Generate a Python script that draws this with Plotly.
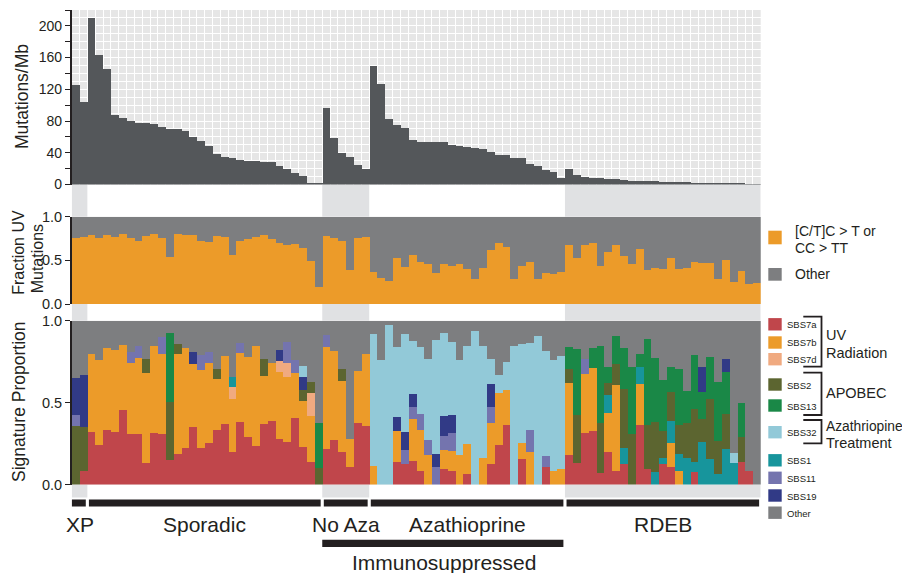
import plotly.graph_objects as go

W, H = 902, 573

# ---------------- data ----------------
groups = ["XP", "Sporadic", "No Aza", "Azathioprine", "RDEB"]
group_sizes = [2, 30, 6, 25, 25]

mutations_per_mb = [
    125, 104,
    210, 163, 145, 88, 84, 80, 78, 78, 76.5, 72.7, 70, 70, 67.6, 60, 55, 48.6, 38.5, 34.7, 33.4, 30.9,
    29.6, 29.6, 28.3, 28.3, 23.2, 19.4, 14.4, 10.6, 1.7, 1.7,
    96.8, 58.7, 39.7, 34.7, 24.5, 19.4,
    148.8, 127.2, 82.8, 75.2, 71.4, 56.2, 53.7, 53.7, 53.7, 53.7, 49.9, 48.6, 47.3, 46, 44.8, 41, 37.2, 37.2,
    33.4, 33.4, 25.8, 23.2, 18.2, 15.6, 8,
    19.4, 11.8, 9.3, 8, 8, 6.8, 6.8, 5.5, 4.2, 4.2, 4.2, 4, 3, 3, 3, 2.8, 2, 1.8, 1, 1, 1, 0.8, 0.8, 0.5, 0.3,
]

uv_fraction = [
    0.756, 0.767,
    0.79, 0.756, 0.79, 0.767, 0.80, 0.756, 0.72, 0.78, 0.81, 0.756, 0.54, 0.81, 0.79, 0.79, 0.73, 0.71, 0.78, 0.767,
    0.57, 0.73, 0.745, 0.767, 0.79, 0.745, 0.70, 0.675, 0.687, 0.64, 0.50, 0.195,
    0.78, 0.756, 0.73, 0.39, 0.756, 0.767,
    0.366, 0.30, 0.263, 0.527, 0.424, 0.56, 0.49, 0.458, 0.355, 0.458, 0.435, 0.458, 0.40, 0.286, 0.412, 0.618,
    0.70, 0.653, 0.286, 0.435, 0.48, 0.286, 0.355, 0.344, 0.366,
    0.675, 0.527, 0.675, 0.70, 0.435, 0.595, 0.675, 0.55, 0.458, 0.63, 0.39, 0.412, 0.40, 0.527, 0.40, 0.412,
    0.48, 0.47, 0.47, 0.286, 0.504, 0.252, 0.378, 0.229, 0.24,
]
uv_other = [
    0.244, 0.233,
    0.21, 0.244, 0.21, 0.233, 0.20, 0.244, 0.28, 0.22, 0.19, 0.244, 0.46, 0.19, 0.21, 0.21, 0.27, 0.29, 0.22, 0.233,
    0.43, 0.27, 0.255, 0.233, 0.21, 0.255, 0.30, 0.325, 0.313, 0.36, 0.50, 0.805,
    0.22, 0.244, 0.27, 0.61, 0.244, 0.233,
    0.634, 0.70, 0.737, 0.473, 0.576, 0.44, 0.51, 0.542, 0.645, 0.542, 0.565, 0.542, 0.60, 0.714, 0.588, 0.382,
    0.30, 0.347, 0.714, 0.565, 0.52, 0.714, 0.645, 0.656, 0.634,
    0.325, 0.473, 0.325, 0.30, 0.565, 0.405, 0.325, 0.45, 0.542, 0.37, 0.61, 0.588, 0.60, 0.473, 0.60, 0.588,
    0.52, 0.53, 0.53, 0.714, 0.496, 0.748, 0.622, 0.771, 0.76,
]

sbs7a = [
    0, 0.085,
    0.32, 0.242, 0.333, 0.32, 0.455, 0.309, 0.309, 0.132, 0.315, 0.309, 0.15, 0.187, 0.224, 0.352, 0.224,
    0.254, 0.333, 0.37, 0.2, 0.382, 0.29, 0.236, 0.37, 0.388, 0.278, 0.26, 0.407, 0.23, 0.138, 0,
    0.217, 0.272, 0.2, 0.108, 0.376, 0.358,
    0, 0, 0, 0.138, 0.126, 0.144, 0.083, 0, 0, 0.096, 0.083, 0, 0.065, 0, 0, 0.126, 0.242, 0.364, 0, 0.157,
    0, 0, 0.108, 0, 0,
    0.181, 0.132, 0.315, 0.327, 0.071, 0.2, 0.083, 0.126, 0, 0.364, 0.096, 0, 0.126, 0.108, 0, 0, 0.077,
    0, 0, 0, 0, 0, 0.138, 0.083, 0,
]
sbs7b = [
    0, 0,
    0.476, 0.518, 0.5, 0.506, 0.396, 0.433, 0.463, 0.549, 0.53, 0.488, 0, 0.61, 0.61, 0.384, 0.475, 0.488,
    0.311, 0.415, 0.323, 0.42, 0.488, 0.61, 0.293, 0.354, 0.408, 0.396, 0.274, 0.28, 0.28, 0,
    0.622, 0.543, 0.433, 0.171, 0.317, 0.439,
    0.114, 0, 0, 0.189, 0, 0.256, 0.25, 0.181, 0, 0.116, 0.122, 0.181, 0.183, 0, 0.163, 0.25, 0.317, 0.213,
    0, 0.098, 0.2, 0, 0, 0.083, 0.096,
    0.439, 0, 0.36, 0.384, 0, 0.238, 0.524, 0, 0, 0.25, 0, 0, 0, 0.146, 0.083, 0, 0, 0, 0, 0, 0, 0, 0, 0, 0,
]
sbs7d = [
    0, 0,
    0, 0, 0, 0, 0, 0, 0, 0, 0, 0, 0, 0, 0, 0, 0, 0, 0, 0, 0.073, 0, 0, 0, 0, 0, 0.067, 0.085, 0, 0, 0.14, 0,
    0, 0, 0, 0, 0, 0,
    0, 0, 0, 0, 0, 0, 0, 0, 0, 0, 0, 0, 0, 0, 0, 0, 0, 0, 0, 0, 0, 0, 0, 0, 0,
    0, 0, 0, 0, 0, 0, 0, 0, 0, 0, 0, 0, 0, 0, 0, 0, 0, 0, 0, 0, 0, 0, 0, 0, 0,
]
sbs1 = [
    0, 0,
    0, 0, 0, 0, 0, 0, 0, 0, 0, 0, 0, 0, 0, 0, 0, 0, 0, 0, 0.061, 0, 0, 0, 0, 0, 0, 0, 0, 0, 0, 0,
    0, 0, 0, 0, 0, 0,
    0, 0, 0, 0, 0, 0, 0, 0, 0, 0, 0, 0, 0, 0, 0, 0, 0, 0, 0, 0, 0, 0, 0, 0, 0,
    0, 0, 0, 0, 0, 0.11, 0, 0.098, 0, 0.104, 0, 0.077, 0.037, 0.134, 0.104, 0.163, 0.061, 0.26, 0.157,
    0.065, 0.217, 0.132, 0, 0, 0,
]
sbs2 = [
    0.358, 0.266,
    0, 0, 0, 0, 0, 0, 0, 0.085, 0, 0, 0.354, 0.061, 0, 0, 0, 0, 0.061, 0, 0, 0, 0, 0, 0.104, 0, 0, 0, 0,
    0.067, 0.067, 0.1,
    0, 0, 0.073, 0, 0, 0,
    0, 0, 0, 0, 0, 0, 0, 0, 0, 0, 0, 0, 0, 0, 0, 0, 0, 0, 0, 0, 0, 0, 0, 0, 0,
    0.085, 0.293, 0, 0, 0.305, 0.073, 0.128, 0.36, 0.309, 0, 0.268, 0.305, 0.165, 0.177, 0.177, 0.213,
    0.323, 0.14, 0.366, 0.2, 0.213, 0, 0.152, 0, 0,
]
sbs13 = [
    0, 0,
    0, 0, 0, 0, 0, 0, 0, 0, 0, 0, 0.42, 0, 0, 0, 0, 0, 0, 0, 0, 0, 0, 0, 0, 0, 0, 0, 0, 0, 0, 0.28,
    0, 0, 0, 0, 0, 0,
    0, 0, 0, 0, 0, 0, 0, 0, 0, 0, 0, 0, 0, 0, 0, 0, 0, 0, 0, 0, 0, 0, 0, 0, 0,
    0.134, 0.402, 0, 0.122, 0.47, 0.098, 0.171, 0.25, 0.409, 0.079, 0.524, 0.39, 0.311, 0.152, 0.341,
    0.195, 0.329, 0.165, 0.256, 0.36, 0.256, 0, 0.207, 0, 0,
]
sbs11 = [
    0.071, 0,
    0, 0, 0, 0, 0, 0.067, 0.073, 0, 0, 0.104, 0, 0, 0, 0, 0.091, 0.067, 0, 0, 0, 0.061, 0, 0, 0, 0, 0,
    0.128, 0.079, 0, 0, 0,
    0.073, 0, 0, 0, 0, 0,
    0, 0, 0, 0, 0.085, 0.073, 0.098, 0.091, 0.108, 0.085, 0.11, 0, 0, 0, 0, 0.098, 0, 0, 0, 0, 0.134, 0,
    0.067, 0, 0,
    0, 0, 0.091, 0, 0, 0, 0, 0, 0, 0, 0, 0, 0, 0, 0, 0, 0, 0, 0, 0, 0, 0, 0, 0, 0,
]
sbs19 = [
    0.22, 0.317,
    0, 0, 0, 0, 0, 0, 0, 0, 0, 0, 0, 0, 0, 0.073, 0, 0, 0, 0, 0, 0, 0, 0, 0, 0, 0.073, 0, 0, 0.079, 0, 0,
    0, 0, 0, 0, 0, 0,
    0, 0, 0, 0.085, 0.11, 0.079, 0, 0, 0.079, 0.122, 0.11, 0, 0, 0, 0, 0.14, 0, 0, 0, 0, 0, 0, 0, 0, 0,
    0, 0, 0, 0, 0, 0, 0, 0, 0, 0, 0, 0, 0, 0, 0, 0, 0, 0.152, 0, 0, 0.079, 0, 0, 0, 0,
]
sbs32 = [
    0, 0,
    0, 0, 0, 0, 0, 0, 0, 0, 0, 0, 0, 0, 0, 0, 0, 0, 0, 0, 0, 0, 0, 0, 0, 0, 0, 0, 0, 0.067, 0, 0,
    0, 0, 0, 0, 0, 0,
    0.805, 0.76, 0.974, 0.427, 0.6, 0.323, 0.408, 0.494, 0.7, 0.506, 0.445, 0.58, 0.598, 0.937, 0.683,
    0.152, 0.11, 0.171, 0.846, 0.604, 0.53, 0.906, 0.64, 0.677, 0.69,
    0, 0, 0, 0, 0, 0, 0, 0, 0, 0, 0, 0, 0, 0, 0, 0, 0, 0, 0, 0, 0, 0.061, 0, 0, 0,
]
sig_other = [
    0.351, 0.332,
    0.204, 0.24, 0.167, 0.174, 0.149, 0.191, 0.155, 0.234, 0.155, 0.099, 0.076, 0.142, 0.166, 0.191, 0.21,
    0.191, 0.295, 0.215, 0.343, 0.137, 0.222, 0.154, 0.233, 0.258, 0.174, 0.131, 0.24, 0.277, 0.375, 0.62,
    0.088, 0.185, 0.294, 0.721, 0.307, 0.203,
    0.081, 0.24, 0.026, 0.161, 0.079, 0.125, 0.161, 0.234, 0.113, 0.075, 0.13, 0.239, 0.154, 0.063, 0.154,
    0.234, 0.331, 0.252, 0.154, 0.141, 0.136, 0.094, 0.185, 0.24, 0.214,
    0.161, 0.173, 0.234, 0.167, 0.154, 0.281, 0.094, 0.166, 0.282, 0.203, 0.112, 0.228, 0.361, 0.283, 0.295,
    0.429, 0.21, 0.283, 0.221, 0.375, 0.235, 0.807, 0.503, 0.917, 1.0,
]

# ---------------- styles ----------------
FONT = "Liberation Sans, Arial, Helvetica, sans-serif"
INK = "#231f20"
DARK = "#54575a"
ORANGE = "#ec9b29"
GRAY = "#7d7e80"
BAND = "#e0e1e3"
COLORS = {
    "SBS7a": "#c0464b", "SBS7b": "#ec9b29", "SBS7d": "#f0aa80",
    "SBS2": "#5c6530", "SBS13": "#1a8847", "SBS32": "#92c9d8",
    "SBS1": "#17959c", "SBS11": "#7474ae", "SBS19": "#313a86", "Other": GRAY,
}
stack_order = [("SBS7a", sbs7a), ("SBS7b", sbs7b), ("SBS7d", sbs7d), ("SBS1", sbs1),
               ("SBS2", sbs2), ("SBS13", sbs13), ("SBS11", sbs11), ("SBS19", sbs19),
               ("SBS32", sbs32), ("Other", sig_other)]
legend_order = ["SBS7a", "SBS7b", "SBS7d", "SBS2", "SBS13", "SBS32", "SBS1", "SBS11", "SBS19", "Other"]
legend_y = [324.3, 342.5, 359.2, 384.5, 405.5, 432.2, 460.3, 477.8, 495.5, 512.7]


def px(p):
    return p / W


def py(p):
    return 1 - p / H


n = len(mutations_per_mb)
xs = list(range(n))
X0, X1 = 71.7, 760.7

fig = go.Figure()
common = dict(width=1, marker_line_width=0, hoverinfo="skip", showlegend=False)
fig.add_trace(go.Bar(x=xs, y=mutations_per_mb, marker_color=DARK, xaxis="x", yaxis="y", **common))
fig.add_trace(go.Bar(x=xs, y=uv_fraction, marker_color=ORANGE, xaxis="x2", yaxis="y2", **common))
fig.add_trace(go.Bar(x=xs, y=uv_other, marker_color=GRAY, xaxis="x2", yaxis="y2", **common))
for name, vals in stack_order:
    fig.add_trace(go.Bar(x=xs, y=vals, marker_color=COLORS[name], xaxis="x3", yaxis="y3", **common))

yaxis_common = dict(showline=True, linecolor=INK, linewidth=1.5, ticks="outside", ticklen=5,
                    tickwidth=1.2, tickcolor=INK, zeroline=False,
                    tickfont=dict(family=FONT, size=14.5, color=INK))

fig.update_layout(
    width=W, height=H, margin=dict(l=0, r=0, t=0, b=0, autoexpand=False),
    paper_bgcolor="white", plot_bgcolor="#e6e6e6",
    barmode="stack", bargap=0, font=dict(family=FONT, color=INK),
    xaxis=dict(domain=[px(X0), px(X1)], range=[-0.5, n - 0.5], anchor="y",
               showticklabels=False, ticks="", showline=False, zeroline=False,
               showgrid=True, gridcolor="white", gridwidth=1.3,
               tickmode="linear", tick0=-0.5, dtick=1),
    xaxis2=dict(domain=[px(X0), px(X1)], range=[-0.5, n - 0.5], anchor="y2", visible=False),
    xaxis3=dict(domain=[px(X0), px(X1)], range=[-0.5, n - 0.5], anchor="y3", visible=False),
    yaxis=dict(domain=[py(184.5), py(10)], range=[0, 220], anchor="x",
               tickvals=list(range(0, 221, 20)),
               ticktext=[str(v) if v % 40 == 0 else "" for v in range(0, 221, 20)],
               showgrid=True, gridcolor="white", gridwidth=1.3,
               minor=dict(dtick=10, tick0=0, showgrid=True, gridcolor="white", gridwidth=1.3, ticks=""),
               **{**yaxis_common, "tickfont": dict(family=FONT, size=14, color=INK)}),
    yaxis2=dict(domain=[py(304), py(216.7)], range=[0, 1], anchor="x2", showgrid=False,
                tickvals=[0, 0.5, 1], ticktext=["0.0", "0.5", "1.0"], **yaxis_common),
    yaxis3=dict(domain=[py(484.5), py(320.7)], range=[0, 1], anchor="x3", showgrid=False,
                tickvals=[0, 0.5, 1], ticktext=["0.0", "0.5", "1.0"], **yaxis_common),
)

shapes = []
annotations = []

# group boundaries
starts = []
s = 0
for g in group_sizes:
    starts.append(s)
    s += g

# grey background bands for XP, No Aza, RDEB in the gaps between panels
for gi in (0, 2, 4):
    a = starts[gi] - 0.5
    b = starts[gi] + group_sizes[gi] - 0.5
    for (t, btm) in ((184.5, 216.7), (304, 320.7), (484.5, 497.5)):
        shapes.append(dict(type="rect", xref="x", yref="paper", x0=a, x1=b,
                           y0=py(btm), y1=py(t), fillcolor=BAND, line_width=0, layer="below"))

# black cohort bars and labels
for gi, g in enumerate(groups):
    a = starts[gi] - 0.5
    b = starts[gi] + group_sizes[gi] - 0.5
    shapes.append(dict(type="rect", xref="x", yref="paper", x0=a + (0 if gi == 0 else 0.2), x1=b - 0.2,
                       y0=py(506.5), y1=py(499.5), fillcolor=INK, line_width=0))
    annotations.append(dict(text=g, xref="x", yref="paper", x=(a + b) / 2, y=py(524),
                            xanchor="center", yanchor="middle", showarrow=False,
                            font=dict(family=FONT, size=21, color=INK)))

# immunosuppressed bar (No Aza + Azathioprine)
ia = starts[2] - 0.5
ib = starts[3] + group_sizes[3] - 0.5
shapes.append(dict(type="rect", xref="x", yref="paper", x0=ia, x1=ib - 0.2,
                   y0=py(547), y1=py(539.7), fillcolor=INK, line_width=0))
annotations.append(dict(text="Immunosuppressed", xref="x", yref="paper", x=(ia + ib) / 2, y=py(562),
                        xanchor="center", yanchor="middle", showarrow=False,
                        font=dict(family=FONT, size=21, color=INK)))

# y-axis titles
ytitle_font = dict(family=FONT, size=17.5, color=INK)
uvt_font = dict(family=FONT, size=16, color=INK)
annotations += [
    dict(text="Mutations/Mb", x=px(22), y=py(97), textangle=-90, font=ytitle_font),
    dict(text="Fraction UV", x=px(18.3), y=py(297), textangle=-90, yanchor="bottom", font=uvt_font),
    dict(text="Mutations", x=px(37.8), y=py(295), textangle=-90, yanchor="bottom", font=uvt_font),
    dict(text="Signature Proportion", x=px(18.3), y=py(401.7), textangle=-90, font=ytitle_font),
]

# legend for UV panel
for color, y0, y1 in ((ORANGE, 230.7, 244.3), (GRAY, 268, 280.7)):
    shapes.append(dict(type="rect", xref="paper", yref="paper", x0=px(768.3), x1=px(781.7),
                       y0=py(y1), y1=py(y0), fillcolor=color, line_width=0))
leg_font = dict(family=FONT, size=14, color=INK)
annotations += [
    dict(text="[C/T]C > T or", x=px(792.7), y=py(231), xanchor="left", font=leg_font),
    dict(text="CC > TT", x=px(792.7), y=py(247.5), xanchor="left", font=leg_font),
    dict(text="Other", x=px(792.7), y=py(273.5), xanchor="left", font=leg_font),
]

# legend for signature panel
for name, yc in zip(legend_order, legend_y):
    shapes.append(dict(type="rect", xref="paper", yref="paper", x0=px(768.3), x1=px(781.7),
                       y0=py(yc + 6.2), y1=py(yc - 6.2), fillcolor=COLORS[name], line_width=0))
    annotations.append(dict(text=name, x=px(785), y=py(yc + 0.5), xanchor="left",
                            font=dict(family=FONT, size=9.5, color=INK)))

# brackets
for (t, b) in ((316.7, 366.7), (372.7, 415), (420, 443.3)):
    path = "M {a},{t} L {c},{t} L {c},{b} L {a},{b}".format(
        a=px(803.3), c=px(821.5), t=py(t), b=py(b))
    shapes.append(dict(type="path", xref="paper", yref="paper", path=path,
                       line=dict(color=INK, width=1.8)))
for txt, yc, fs, x0 in (("UV", 335, 14.5, 824), ("Radiation", 353.3, 14.5, 824),
                        ("APOBEC", 393.3, 14.5, 824), ("Azathriopine", 426, 13.8, 823.5),
                        ("Treatment", 443.3, 14.5, 824)):
    annotations.append(dict(text=txt, x=px(x0), y=py(yc), xanchor="left",
                            font=dict(family=FONT, size=fs, color=INK)))

for a in annotations:
    a.setdefault("xref", "paper")
    a.setdefault("yref", "paper")
    a.setdefault("showarrow", False)
    a.setdefault("xanchor", "center")
    a.setdefault("yanchor", "middle")

fig.update_layout(shapes=shapes, annotations=annotations)
fig.write_html("out.html", config={"displayModeBar": False},
               post_script="document.body.style.margin='0';document.body.style.overflow='hidden';")
